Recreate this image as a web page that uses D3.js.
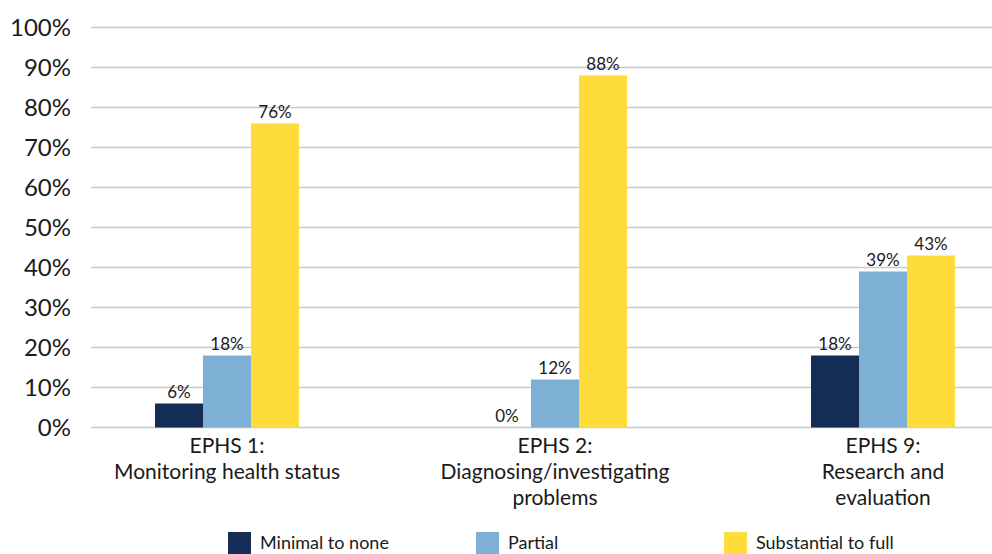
<!DOCTYPE html>
<html>
<head>
<meta charset="utf-8">
<script src="https://cdn.jsdelivr.net/npm/d3@7"></script>
<style>
  html, body { margin: 0; padding: 0; background: #ffffff; }
  svg { display: block; }
  text { font-family: Lato, "Open Sans", sans-serif; fill: #1a1a1a; }
</style>
</head>
<body>
<svg id="chart" width="992" height="554"></svg>
<script>
// Essential Public Health Services: share of capacity level per service
const categories = [
  ["EPHS 1:", "Monitoring health status"],
  ["EPHS 2:", "Diagnosing/investigating", "problems"],
  ["EPHS 9:", "Research and", "evaluation"]
];
const seriesNames = ["Minimal to none", "Partial", "Substantial to full"];
const minimalToNone = [6, 0, 18];
const partial = [18, 12, 39];
const substantialToFull = [76, 88, 43];
const yTicks = [0, 10, 20, 30, 40, 50, 60, 70, 80, 90, 100];
const colors = ["#132d54", "#7eafd4", "#fddc3c"];

const seriesValues = [minimalToNone, partial, substantialToFull];
const catKeys = categories.map(c => c[0]);

const svg = d3.select("#chart");

const y = d3.scaleLinear().domain([0, 100]).range([427.5, 27.5]);
const x0 = d3.scaleBand().domain(catKeys).range([63, 1047]).padding(0);
const x1 = d3.scaleBand().domain(seriesNames).range([-72, 72]).padding(0);

// horizontal gridlines
svg.append("g")
  .selectAll("line")
  .data(yTicks)
  .join("line")
  .attr("x1", 91).attr("x2", 992)
  .attr("y1", d => y(d)).attr("y2", d => y(d))
  .attr("stroke", "#c9c9c9")
  .attr("stroke-width", 1.5);

// y tick labels
svg.append("g")
  .selectAll("text")
  .data(yTicks)
  .join("text")
  .attr("x", 71)
  .attr("y", d => y(d) + 8)
  .attr("text-anchor", "end")
  .style("font-size", "24px")
  .text(d => d + "%");

// bars and their value labels
const groups = svg.append("g")
  .selectAll("g")
  .data(catKeys)
  .join("g")
  .attr("transform", d => `translate(${x0(d) + x0.bandwidth() / 2},0)`);

groups.each(function(cat, ci) {
  const g = d3.select(this);
  const items = seriesNames.map((s, si) => ({ s, si, v: seriesValues[si][ci] }));
  g.selectAll("rect")
    .data(items)
    .join("rect")
    .attr("x", d => x1(d.s))
    .attr("width", x1.bandwidth())
    .attr("y", d => y(d.v))
    .attr("height", d => y(0) - y(d.v))
    .attr("fill", d => colors[d.si]);
  g.selectAll("text")
    .data(items)
    .join("text")
    .attr("x", d => x1(d.s) + x1.bandwidth() / 2)
    .attr("y", d => y(d.v) - 6)
    .attr("text-anchor", "middle")
    .style("font-size", "17px")
    .text(d => d.v + "%");
});

// category labels
const catLabels = svg.append("g")
  .selectAll("text")
  .data(categories)
  .join("text")
  .attr("x", (d, i) => x0(catKeys[i]) + x0.bandwidth() / 2)
  .attr("y", 453)
  .attr("text-anchor", "middle")
  .style("font-size", "21px");
catLabels.selectAll("tspan")
  .data(d => d)
  .join("tspan")
  .attr("x", function() { return d3.select(this.parentNode).attr("x"); })
  .attr("dy", (d, i) => i === 0 ? 0 : 26)
  .text(d => d);

// legend
const legend = svg.append("g")
  .selectAll("g")
  .data(seriesNames)
  .join("g")
  .attr("transform", (d, i) => `translate(${228 + i * 248},532)`);
legend.append("rect")
  .attr("width", 23).attr("height", 22)
  .attr("fill", (d, i) => colors[i]);
legend.append("text")
  .attr("x", 32).attr("y", 17)
  .style("font-size", "18px")
  .text(d => d);
</script>
</body>
</html>
